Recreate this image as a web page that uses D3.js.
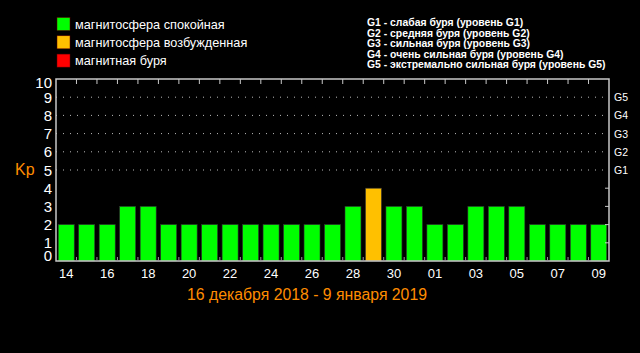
<!DOCTYPE html>
<html lang="ru">
<head>
<meta charset="utf-8">
<style>
  body { margin:0; background:#000; }
  svg { display:block; }
  text { font-family: "Liberation Sans", Arial, sans-serif; }
</style>
<script src="https://d3js.org/d3.v7.min.js"></script>
</head>
<body>
<script>
const days = ["14","15","16","17","18","19","20","21","22","23","24","25","26","27","28","29","30","31","01","02","03","04","05","06","07","08","09"];
const kp   = [2,2,2,3,3,2,2,2,2,2,2,2,2,2,3,4,3,3,2,2,3,3,3,2,2,2,2];
const dayLabels = ["14","16","18","20","22","24","26","28","30","01","03","05","07","09"];
const legendItems = [
  {name:"магнитосфера спокойная", color:"#00ff00"},
  {name:"магнитосфера возбужденная", color:"#ffc000"},
  {name:"магнитная буря", color:"#ff0000"}
];
const stormNotes = [
  "G1 - слабая буря (уровень G1)",
  "G2 - средняя буря (уровень G2)",
  "G3 - сильная буря (уровень G3)",
  "G4 - очень сильная буря (уровень G4)",
  "G5 - экстремально сильная буря (уровень G5)"
];
const gLevels = ["G1","G2","G3","G4","G5"];

const W = 640, H = 353;
const pL = 56, pR = 609, pT = 79, pB = 261;

const svg = d3.select("body").append("svg")
  .attr("width", W).attr("height", H)
  .style("background", "#000");

const x = d3.scaleBand().domain(days).range([pL, pR]).paddingInner(0.22).paddingOuter(0.11);
const y = d3.scaleLinear().domain([0, 10]).range([pB, pT]);

const colorOf = v => v >= 5 ? "#ff0000" : (v === 4 ? "#ffc000" : "#00ff00");

// legend
const leg = svg.append("g");
legendItems.forEach((d, i) => {
  leg.append("rect").attr("x", 57).attr("y", 17.5 + i*18.3).attr("width", 13).attr("height", 13)
    .attr("fill", d.color).attr("stroke", "#600").attr("stroke-width", 0.5);
  leg.append("text").attr("x", 75).attr("y", 28.5 + i*18.3).text(d.name)
    .attr("fill", "#fff").style("font-size", "12.7px");
});

stormNotes.forEach((t, i) => {
  svg.append("text").attr("x", 367).attr("y", 26 + i*10.6).text(t)
    .attr("fill", "#fff").style("font-size", "10.4px").style("font-weight", "bold");
});

// dotted grid 5..9
svg.append("g").selectAll("line").data([5,6,7,8,9]).join("line")
  .attr("x1", pL).attr("x2", pR)
  .attr("y1", d => y(d)).attr("y2", d => y(d))
  .attr("stroke", "#bbb").attr("stroke-width", 1).attr("stroke-dasharray", "1,6");

// bars
svg.append("g").selectAll("rect").data(days).join("rect")
  .attr("x", d => x(d))
  .attr("width", x.bandwidth())
  .attr("y", (d, i) => y(kp[i]))
  .attr("height", (d, i) => y(0) - y(kp[i]))
  .attr("fill", (d, i) => colorOf(kp[i]))
  .attr("stroke", "#333").attr("stroke-width", 0.6);

// frame
svg.append("rect").attr("x", pL).attr("y", pT).attr("width", pR-pL).attr("height", pB-pT)
  .attr("fill", "none").attr("stroke", "#c8c8c8").attr("stroke-width", 1.5);

// boundary ticks top and bottom
const step = x.step();
const bounds = d3.range(1, days.length).map(i => x(days[i]) - x.paddingInner()*step/2);
svg.append("g").selectAll("line").data(bounds).join("line")
  .attr("x1", d => d).attr("x2", d => d).attr("y1", pT).attr("y2", pT+5)
  .attr("stroke", "#c8c8c8");
svg.append("g").selectAll("line").data(bounds).join("line")
  .attr("x1", d => d).attr("x2", d => d).attr("y1", pB).attr("y2", pB-4)
  .attr("stroke", "#999");

// right small ticks 1..4
svg.append("g").selectAll("line").data([1,2,3,4]).join("line")
  .attr("x1", pR).attr("x2", pR-4).attr("y1", d => y(d)).attr("y2", d => y(d))
  .attr("stroke", "#c8c8c8");

// left axis labels
svg.append("g").selectAll("text").data(d3.range(0, 11)).join("text")
  .attr("x", 52).attr("y", d => Math.min(Math.max(y(d), pT+3), pB-6) + 5.5)
  .attr("text-anchor", "end")
  .text(d => d)
  .attr("fill", "#fff").style("font-size", "15px");

svg.append("text").attr("x", 15).attr("y", 175).text("Kp")
  .attr("fill", "#ff8c00").style("font-size", "16px");

// right G labels
svg.append("g").selectAll("text").data(gLevels).join("text")
  .attr("x", 614).attr("y", (d, i) => y(i+5) + 4)
  .text(d => d).attr("fill", "#fff").style("font-size", "10.5px");

// x labels
svg.append("g").selectAll("text").data(dayLabels).join("text")
  .attr("x", d => x(d) + x.bandwidth()/2).attr("y", 278)
  .attr("text-anchor", "middle").text(d => d)
  .attr("fill", "#fff").style("font-size", "13px");

svg.append("text").attr("x", 307).attr("y", 300).attr("text-anchor", "middle")
  .text("16 декабря 2018 - 9 января 2019")
  .attr("fill", "#ff8c00").style("font-size", "15.8px");
</script>
</body>
</html>
